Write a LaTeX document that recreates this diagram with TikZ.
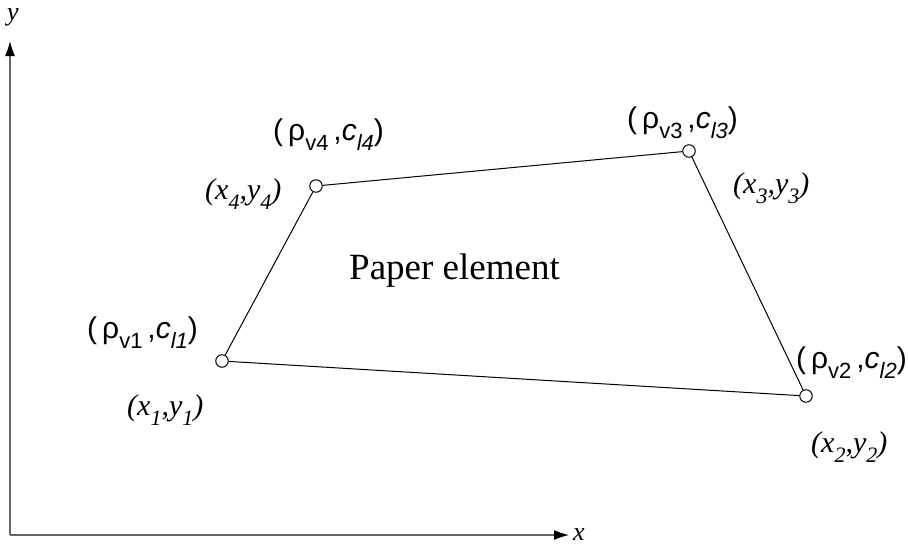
\documentclass[tikz,border=0pt]{standalone}
\usepackage{fontspec}
\setmainfont{Liberation Serif}
\newfontfamily\arialf{Liberation Sans}
\usetikzlibrary{arrows.meta}
\newcommand{\mysub}[1]{\raisebox{-0.34em}{\fontsize{22}{24}\selectfont #1}}
\newcommand{\rholab}[1]{(\,ρ\mysub{v#1}\,,\textit{c}\mysub{\itshape l#1})}
\newcommand{\xylab}[1]{(x\mysub{#1},y\mysub{#1})}
\begin{document}
\begin{tikzpicture}[x=1pt,y=-1pt,
  vtx/.style={circle,draw,inner sep=0pt,minimum size=12.5pt,line width=1pt},
  axis/.style={line width=1.3pt,draw=black!60,-{Latex[length=15pt,width=10pt,black]}},
  rlab/.style={font=\arialf\fontsize{30}{32}\selectfont,inner sep=0pt},
  xlab/.style={font=\fontsize{30}{32}\selectfont\itshape,inner sep=0pt},
  alab/.style={font=\fontsize{26}{28}\selectfont\itshape,inner sep=0pt},
  edge/.style={line width=1pt}]
\useasboundingbox (0,0) rectangle (908,547);
\coordinate (o) at (10,535);
\coordinate (ytip) at (10,41);
\coordinate (xtip) at (569,535);
\draw[axis] (o) -- (ytip);
\draw[axis] (o) -- (xtip);
\node[alab] (ylab) at (13,17) {y};
\node[alab] (xlab) at (579,535) {x};
\node[vtx] (p1) at (222,361) {};
\node[vtx] (p2) at (806,396) {};
\node[vtx] (p3) at (689,151) {};
\node[vtx] (p4) at (316,186) {};
\draw[edge] (p1) -- (p2) -- (p3) -- (p4) -- (p1);
\node[font=\fontsize{37}{39}\selectfont,inner sep=0pt,anchor=west] (pe) at (349,271) {Paper element};
\node[rlab,anchor=west] (r1) at (87,333) {\rholab{1}};
\node[rlab,anchor=west] (r4) at (273,135) {\rholab{4}};
\node[rlab,anchor=west] (r3) at (627,123) {\rholab{3}};
\node[rlab,anchor=east] (r2) at (907,363) {\rholab{2}};
\node[xlab,anchor=west] (c1) at (127,410) {\xylab{1}};
\node[xlab,anchor=west] (c4) at (205,194) {\xylab{4}};
\node[xlab,anchor=west] (c3) at (733,188) {\xylab{3}};
\node[xlab,anchor=west] (c2) at (811,447) {\xylab{2}};
\end{tikzpicture}
\end{document}
